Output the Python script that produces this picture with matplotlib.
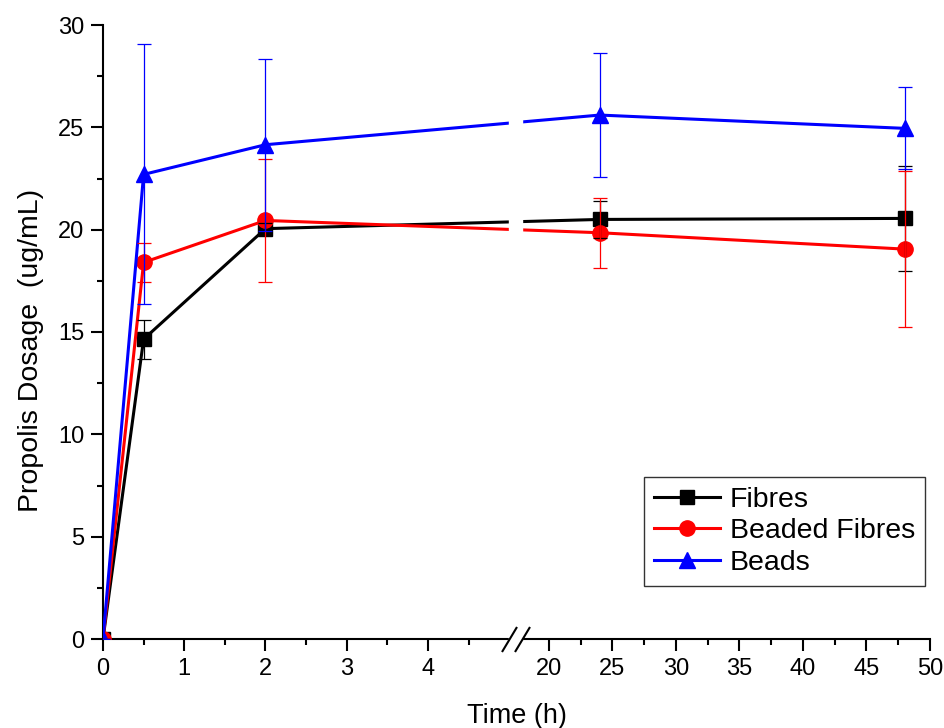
import numpy as np
import matplotlib
matplotlib.use("Agg")
import matplotlib.pyplot as plt
from matplotlib.transforms import blended_transform_factory

plt.rcParams['font.family'] = ['Liberation Sans', 'DejaVu Sans']

# data
time = [0, 0.5, 2, 24, 48]
fibres = [0, 14.65, 20.05, 20.5, 20.55]
fibres_err = [0, 0.95, 0.3, 0.9, 2.55]
beaded = [0, 18.4, 20.45, 19.85, 19.05]
beaded_err = [0, 0.97, 3.0, 1.7, 3.8]
beads = [0, 22.7, 24.15, 25.6, 24.95]
beads_err = [0, 6.35, 4.2, 3.05, 2.0]

labels = ["Fibres", "Beaded Fibres", "Beads"]
colors = ["black", "red", "blue"]
markers = ["s", "o", "^"]
msizes = [9.5, 11, 12]

# broken x axis: 0-5 then 17.9-50 compressed
brk_lo, brk_hi, gap, ratio = 5.0, 17.9, 0.16, 12.7 / 81.2
xp = np.array([-100, brk_lo, brk_hi, 200])
fp = np.array([-100, brk_lo, brk_lo + gap, brk_lo + gap + (200 - brk_hi) * ratio])

def fwd(x):
    return np.interp(x, xp, fp)

def inv(x):
    return np.interp(x, fp, xp)

fig = plt.figure(figsize=(9.44, 7.28), dpi=100)
ax = fig.add_axes([103/944, 1-639/728, 827/944, 614/728])
ax.set_xscale('function', functions=(fwd, inv))

series = [(fibres, fibres_err), (beaded, beaded_err), (beads, beads_err)]
for (vals, errs), lab, c, m, s in zip(series, labels, colors, markers, msizes):
    ax.plot(time, vals, color=c, marker=m, lw=2.2, ms=s, label=lab, zorder=3)
    ax.errorbar(time, vals, yerr=errs, fmt='none', ecolor=c, elinewidth=0.9,
                capsize=5, capthick=0.9, zorder=4)

ax.set_xlim(0, 50)
ax.set_ylim(0, 30)
ax.set_xticks([0, 1, 2, 3, 4, 20, 25, 30, 35, 40, 45, 50])
ax.set_xticks([0.5, 1.5, 2.5, 3.5, 4.5, 22.5, 27.5, 32.5, 37.5, 42.5, 47.5], minor=True)
ax.set_yticks(np.arange(0, 31, 5))
ax.set_yticks(np.arange(2.5, 30, 5), minor=True)

for s in ['top', 'right']:
    ax.spines[s].set_visible(False)
for s in ['left', 'bottom']:
    ax.spines[s].set_linewidth(1.5)
ax.tick_params(which='major', direction='out', length=8.5, width=1.5, labelsize=17, pad=5)
ax.tick_params(which='minor', direction='out', length=4.5, width=1.5)

# gap in lines and axis at the break
ax.axvspan(brk_lo, brk_hi, ymin=-0.02, ymax=1, color='white', zorder=5, clip_on=False)
trans = blended_transform_factory(ax.transData, ax.transAxes)
slash = [(-0.6, -1), (0.6, 1)]
ax.plot([brk_lo, brk_hi], [0, 0], transform=trans, ls='none', marker=slash,
        ms=18, mew=1.5, color='black', clip_on=False, zorder=6)

ax.set_xlabel("Time (h)", fontsize=19.5, labelpad=17)
ax.set_ylabel("Propolis Dosage  (ug/mL)", fontsize=20.5, labelpad=10)
ax.yaxis.label.set_y(0.47)

leg = ax.legend(loc='lower right', bbox_to_anchor=(925/944, 1-586/728),
                bbox_transform=fig.transFigure, fontsize=20.5, fancybox=False,
                edgecolor='black', borderaxespad=0, handlelength=2.3,
                labelspacing=0.2, borderpad=0.35, handletextpad=0.35)
leg.get_frame().set_linewidth(1.0)
leg.set_zorder(10)

plt.savefig("out.png", dpi=100)
plt.close()
